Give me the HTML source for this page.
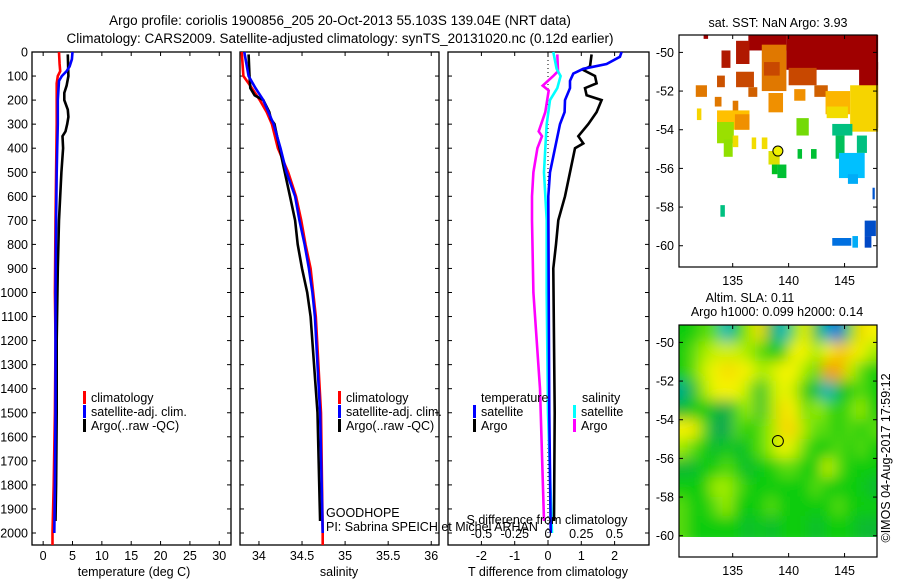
<!DOCTYPE html>
<html><head><meta charset="utf-8"><style>
body{margin:0;background:#fff;}
svg{display:block;font-family:"Liberation Sans",sans-serif;}
</style></head><body>
<svg id="c" width="900" height="580" xmlns="http://www.w3.org/2000/svg">
<defs>
<filter id="blur" x="-0.1" y="-0.1" width="1.2" height="1.2"><feGaussianBlur stdDeviation="7"/></filter>
<clipPath id="clipSla"><rect x="679" y="325" width="198" height="212"/></clipPath>
</defs>
<g font-size="13.5" text-anchor="middle" fill="#000">
<text x="340" y="25">Argo profile: coriolis 1900856_205 20-Oct-2013 55.103S 139.04E (NRT data)</text>
<text x="340" y="43">Climatology: CARS2009. Satellite-adjusted climatology: synTS_20131020.nc (0.12d earlier)</text>
</g>
<g id="plots"></g>
</svg>
<script>
// ---------- data ----------
const depthTicks=[0,100,200,300,400,500,600,700,800,900,1000,1100,1200,1300,1400,1500,1600,1700,1800,1900,2000];
const tempTicks=[0,5,10,15,20,25,30];
const salTicks=[34,34.5,35,35.5,36];
const salTickLabels=["34","34.5","35","35.5","36"];
const dTTicks=[-2,-1,0,1,2];
const dSTicks=[-0.5,-0.25,0,0.25,0.5];
const dSTickLabels=["-0.5","-0.25","0","0.25","0.5"];

const tClimDepth=[0,50,80,100,130,300,500,700,1000,1200,1500,1800,2000,2050];
const tClim=[2.7,2.8,2.9,2.5,2.3,2.3,2.2,2.1,2.0,2.1,2.0,1.8,1.6,1.6];
const tSatDepth=[0,30,60,80,100,120,200,300,400,500,700,1000,1500,1800,2000];
const tSat=[5.0,4.9,4.5,4.0,3.2,2.7,2.5,2.5,2.4,2.3,2.2,2.1,2.1,2.0,1.9];
const tArgoDepth=[10,100,140,170,200,240,270,300,330,350,400,500,700,900,1200,1500,1800,1950];
const tArgo=[4.2,4.3,4.0,3.6,3.6,4.2,4.3,4.1,3.8,3.3,3.4,3.1,2.7,2.5,2.3,2.3,2.2,2.1];

const sClimDepth=[0,100,140,200,250,300,400,500,600,700,800,900,1000,1100,1500,2000,2050];
const sClim=[33.80,33.82,33.90,34.01,34.09,34.15,34.22,34.34,34.43,34.49,34.54,34.60,34.63,34.66,34.72,34.74,34.74];
const sSatDepth=[0,100,150,200,300,400,500,600,700,800,900,1000,1100,1500,2000];
const sSat=[33.83,33.88,33.96,34.05,34.17,34.25,34.32,34.42,34.47,34.53,34.58,34.62,34.65,34.71,34.74];
const sArgoDepth=[10,100,150,180,200,250,280,300,400,500,600,700,800,900,1000,1100,1500,1950];
const sArgo=[33.88,33.89,33.90,33.95,34.05,34.12,34.14,34.18,34.24,34.30,34.36,34.42,34.45,34.50,34.56,34.60,34.68,34.71];

const dTArgoDepth=[10,60,75,100,130,150,180,200,250,300,350,380,400,500,600,700,800,900,1500,1950];
const dTArgo=[1.31,1.26,1.06,1.41,1.46,1.11,1.16,1.61,1.46,1.21,0.91,1.06,0.81,0.66,0.51,0.31,0.24,0.16,0.2,0.18];
const dTSatDepth=[0,20,50,70,90,120,150,200,250,300,400,500,600,1000,1500,2000];
const dTSat=[2.21,2.16,1.76,1.06,0.76,0.66,0.66,0.51,0.5,0.36,0.21,0.06,0.01,0.02,0.04,0.08];
const dSSatDepth=[0,70,100,150,200,300,400,500,700,1000,1500,2000];
const dSSat=[0.04,0.065,0.095,0.07,0.015,-0.01,-0.02,-0.03,-0.01,-0.01,0.0,0.03];
const dSArgoDepth=[10,80,100,140,160,250,330,350,400,500,600,700,1000,1400,1950];
const dSArgo=[0.07,0.075,0.04,-0.04,0.005,-0.02,-0.07,-0.045,-0.08,-0.11,-0.12,-0.12,-0.11,-0.06,-0.03];

const lonTicks=[135,140,145];
const latTicks=[-50,-52,-54,-56,-58,-60];
const floatLon=139.04, floatLat=-55.103;
const sstPatches=[
[139.8,-49.1,148,-50.9,9],[146.3,-50.5,148,-52.0,9],[147.2,-52,148,-53.9,9],[136.4,-49.1,139.8,-49.9,9],[135.3,-49.4,136.5,-50.6,8.5],[132.4,-49.1,132.8,-49.3,9],
[137.6,-49.6,139.8,-52.0,6.5],[137.8,-50.5,139.2,-51.2,7.5],[140,-50.8,142.5,-51.7,7.5],[133.6,-51.2,134.3,-51.8,7.3],
[134,-49.9,134.8,-50.8,8.5],[131.7,-51.7,132.7,-52.3,6.5],[133.4,-52.3,134.0,-52.8,6.5],[135.3,-51.0,136.9,-51.8,7.5],
[136.4,-51.8,137.2,-52.3,7],[135,-52.5,135.5,-53.1,6.5],[138.2,-52.1,139.5,-53.1,6],[140.5,-51.9,141.5,-52.5,6],
[142.3,-51.7,143.5,-52.3,7],[143.3,-52.0,145.5,-53.2,5.2],[145.5,-51.7,148,-54.1,4.5],[143.4,-52.8,145.3,-53.4,4.3],
[131.8,-52.9,132.2,-53.5,4.5],[133.6,-53.0,136.5,-54.0,5],[135.2,-53.2,136.5,-54.0,6],[133.6,-53.6,135.1,-54.7,3.3],[134.2,-54.5,135.0,-55.4,3.2],
[135,-54.3,135.5,-54.9,4.3],[136.7,-54.4,137.1,-55.0,4.3],[137.6,-54.4,138.1,-55.0,4.3],[138.2,-55.1,139.2,-55.8,4.0],
[138.5,-55.8,139.0,-56.3,2.7],[139.0,-55.8,139.8,-56.5,2.6],[140.7,-53.4,141.8,-54.3,3.1],[140.8,-55.0,141.2,-55.5,2.6],
[142.0,-55.0,142.5,-55.5,2.6],[143.9,-53.7,145.7,-54.3,2.2],[144.2,-54.3,145.0,-55.5,2.4],[146.1,-54.3,147.0,-55.2,2.2],
[144.5,-55.2,146.8,-56.5,1.6],[145.3,-56.3,146.2,-56.8,1.5],[133.9,-57.9,134.3,-58.5,2.2],[147.5,-57.0,147.7,-57.6,0.8],
[146.8,-58.7,147.8,-59.5,0.7],[143.9,-59.6,145.6,-60.0,1.2],[146.8,-59.5,147.4,-60.1,0.6],[145.7,-59.5,146.2,-60.1,1.5]];
const slaLats=[-49.5,-50.5,-51.5,-52.5,-53.5,-54.5,-55.5,-56.5,-57.5,-58.5,-59.5];
const slaLons=[130.5,131.5,132.5,133.5,134.5,135.5,136.5,137.5,138.5,139.5,140.5,141.5,142.5,143.5,144.5,145.5,146.5,147.5];
const slaGrid=[
[.5,.5,.55,.55,.3,.5,.6,.75,.45,.3,.55,.7,.45,.3,.2,.55,.75,.7],
[.5,.55,.6,.65,.65,.65,.6,.55,.5,.5,.7,.7,.6,.7,.8,.75,.7,.6],
[.5,.55,.65,.7,.75,.72,.7,.6,.65,.7,.7,.6,.55,.85,.85,.65,.55,.5],
[.35,.45,.6,.7,.7,.7,.6,.45,.6,.7,.65,.5,.45,.3,.45,.5,.55,.5],
[.45,.5,.5,.45,.4,.55,.6,.45,.6,.75,.7,.55,.6,.55,.5,.55,.6,.5],
[.7,.72,.55,.4,.4,.55,.5,.55,.6,.75,.75,.6,.55,.55,.5,.55,.5,.55],
[.6,.55,.5,.45,.5,.45,.5,.55,.6,.7,.65,.55,.5,.5,.55,.5,.55,.5],
[.45,.45,.5,.5,.55,.5,.45,.5,.5,.55,.55,.5,.5,.65,.55,.5,.5,.5],
[.5,.5,.5,.6,.6,.55,.5,.5,.5,.5,.5,.5,.55,.5,.5,.5,.5,.45],
[.55,.5,.5,.55,.6,.5,.5,.5,.55,.5,.5,.5,.5,.5,.55,.5,.5,.5],
[.55,.5,.5,.5,.5,.5,.45,.5,.45,.5,.5,.5,.45,.5,.5,.5,.45,.45]];

// ---------- helpers ----------
const NS="http://www.w3.org/2000/svg";
const root=document.getElementById('plots');
function el(tag,attrs,parent){const e=document.createElementNS(NS,tag);for(const k in attrs)e.setAttribute(k,attrs[k]);(parent||root).appendChild(e);return e;}
function txt(x,y,s,anchor,size,parent){const t=el('text',{x:x,y:y,'text-anchor':anchor||'middle','font-size':size||12.5},parent);t.textContent=s;return t;}
const plotTop=52,plotBot=545;
const yD=d=>plotTop+d*0.2405;
function lin(d0,d1,p0,p1){return v=>p0+(v-d0)*(p1-p0)/(d1-d0);}
const xT=lin(-1.9,32.0,32,231);
const xS=lin(33.78,36.09,240,439);
const xDT=lin(0,1,548,581.3);
const xDS=lin(0,1,548,681);

function frame(x0,x1,name){
  const r=el('rect',{x:x0,y:plotTop,width:x1-x0,height:plotBot-plotTop,fill:'none',stroke:'#000','stroke-width':1.3});
  
  
  depthTicks.forEach(d=>{const y=yD(d);el('line',{x1:x0,x2:x0+4,y1:y,y2:y,stroke:'#000'});el('line',{x1:x1-4,x2:x1,y1:y,y2:y,stroke:'#000'});});
}
function xticks(ticks,labels,sc,name){
  const g=el('g',{});
  
  
  ticks.forEach((v,i)=>{const x=sc(v);el('line',{x1:x,x2:x,y1:plotBot,y2:plotBot-4,stroke:'#000'},g);el('line',{x1:x,x2:x,y1:plotTop,y2:plotTop+4,stroke:'#000'},g);txt(x,560,labels?labels[i]:String(v),'middle',12.5,g);});
}
function profile(depths,vals,sc,color,name){
  const pts=depths.map((d,i)=>sc(vals[i]).toFixed(1)+','+yD(d).toFixed(1)).join(' ');
  const p=el('polyline',{points:pts,fill:'none',stroke:color,'stroke-width':2.6,'stroke-linejoin':'miter'});
  
  
}
function legend(x,y,color,label,name){
  const g=el('g',{});
  
  
  el('rect',{x:x,y:y-11,width:3,height:13,fill:color},g);
  txt(x+8,y,label,'start',12.5,g);
}

// ---------- panel 1 temperature ----------
frame(32,231,'temperature-panel');
depthTicks.forEach(d=>{const t=txt(28,yD(d)+4.5,String(d),'end',12.5);});
xticks(tempTicks,null,xT,'temperature-x-axis');
txt(134,576,'temperature (deg C)','middle',12.5);
profile(tClimDepth,tClim,xT,'#ff0000','temp-climatology-line');
profile(tArgoDepth,tArgo,xT,'#000000','temp-argo-line');
profile(tSatDepth,tSat,xT,'#0000ff','temp-satellite-line');
legend(83,402,'#ff0000','climatology','legend-climatology');
legend(83,416,'#0000ff','satellite-adj. clim.','legend-satellite');
legend(83,430,'#000000','Argo(..raw -QC)','legend-argo');

// ---------- panel 2 salinity ----------
frame(240,439,'salinity-panel');
xticks(salTicks,salTickLabels,xS,'salinity-x-axis');
txt(339,576,'salinity','middle',12.5);
profile(sClimDepth,sClim,xS,'#ff0000','sal-climatology-line');
profile(sArgoDepth,sArgo,xS,'#000000','sal-argo-line');
profile(sSatDepth,sSat,xS,'#0000ff','sal-satellite-line');
legend(338,402,'#ff0000','climatology','legend-climatology-2');
legend(338,416,'#0000ff','satellite-adj. clim.','legend-satellite-2');
legend(338,430,'#000000','Argo(..raw -QC)','legend-argo-2');

// ---------- panel 3 differences ----------
frame(448,649,'difference-panel');
xticks(dTTicks,null,xDT,'t-difference-x-axis');
txt(548,576,'T difference from climatology','middle',12.5);
el('line',{x1:xDT(0),x2:xDT(0),y1:plotTop,y2:plotBot,stroke:'#000','stroke-dasharray':'1,3'});
profile(dSArgoDepth,dSArgo,xDS,'#ff00ff','s-diff-argo-line');
profile(dSSatDepth,dSSat,xDS,'#00ffff','s-diff-satellite-line');
profile(dTArgoDepth,dTArgo,xDT,'#000000','t-diff-argo-line');
profile(dTSatDepth,dTSat,xDT,'#0000ff','t-diff-satellite-line');
txt(481,402,'temperature','start',12.5);
txt(582,402,'salinity','start',12.5);
legend(473,416,'#0000ff','satellite','legend-t-satellite');
legend(473,430,'#000000','Argo','legend-t-argo');
legend(573,416,'#00ffff','satellite','legend-s-satellite');
legend(573,430,'#ff00ff','Argo','legend-s-argo');
txt(547,524,'S difference from climatology','middle',12.5);
dSTicks.forEach((v,i)=>{const t=txt(xDS(v),538,dSTickLabels[i],'middle',12.5);});
txt(326,517,'GOODHOPE','start',12.5);
txt(326,531,'PI: Sabrina SPEICH et Michel ARHAN','start',12.5);

// ---------- maps ----------
const mx=lin(130.2,147.9,679,877);
const myTop=lin(-49.1,-61.1,35,267);
const myBot=lin(-49.1,-61.1,325,557);
function colorAt(stops,v){
  if(v<=stops[0][0])return stops[0][1];
  for(let i=1;i<stops.length;i++){if(v<=stops[i][0]){const a=stops[i-1],b=stops[i];const t=(v-a[0])/(b[0]-a[0]);
    const ca=a[1].match(/\w\w/g).map(h=>parseInt(h,16)),cb=b[1].match(/\w\w/g).map(h=>parseInt(h,16));
    return 'rgb('+ca.map((c,k)=>Math.round(c+(cb[k]-c)*t)).join(',')+')';}}
  return stops[stops.length-1][1];
}
const sstStops=[[0.5,'#0040c0'],[1.2,'#0070e0'],[1.6,'#00c0ff'],[2.2,'#00c080'],[2.7,'#00c020'],[3.2,'#90e000'],[4.2,'#f0e000'],[5,'#ffc000'],[6,'#f09000'],[7,'#d06000'],[8,'#c03000'],[9,'#a00000']];
const slaStops=[[0.2,'#0050e0'],[0.3,'#00b0c8'],[0.4,'#00a850'],[0.5,'#10cc10'],[0.6,'#a0ec00'],[0.7,'#f4f400'],[0.8,'#f8c000'],[0.9,'#f08000']];

function mapAxes(my,y0,name){
  const g=el('g',{});
  
  
  el('rect',{x:679,y:y0,width:198,height:232,fill:'none',stroke:'#000','stroke-width':1.2},g);
  lonTicks.forEach(v=>{const x=mx(v);el('line',{x1:x,x2:x,y1:y0,y2:y0+4,stroke:'#000'},g);el('line',{x1:x,x2:x,y1:y0+232,y2:y0+228,stroke:'#000'},g);txt(x,y0+250,String(v),'middle',12.5,g);});
  latTicks.forEach(v=>{const y=my(v);el('line',{x1:679,x2:683,y1:y,y2:y,stroke:'#000'},g);el('line',{x1:873,x2:877,y1:y,y2:y,stroke:'#000'},g);txt(674,y+4.5,String(v),'end',12.5,g);});
}
const sstG=el('g',{});


sstPatches.forEach(p=>{
  const r=el('rect',{x:mx(p[0]),y:myTop(p[1]),width:mx(p[2])-mx(p[0]),height:myTop(p[3])-myTop(p[1]),fill:colorAt(sstStops,p[4])},sstG);
  
  
});
mapAxes(myTop,35,'sst-map-axes');
const f1=el('circle',{cx:mx(floatLon),cy:myTop(floatLat),r:5,fill:'#f0f000',stroke:'#000','stroke-width':1});


txt(778,27,'sat. SST: NaN Argo: 3.93','middle',12.5);

const clipG=el('g',{'clip-path':'url(#clipSla)'});
const slaG=el('g',{filter:'url(#blur)'},clipG);


const nR=slaGrid.length, nC=slaLons.length;
slaGrid.forEach((row,i)=>row.forEach((v,j)=>{
  let lon0=slaLons[j]-0.5, lon1=slaLons[j]+0.5, lat0=slaLats[i]+0.5, lat1=slaLats[i]-0.5;
  if(j===0)lon0-=3; if(j===nC-1)lon1+=3; if(i===0)lat0+=3; if(i===nR-1)lat1-=0.6;
  const r=el('rect',{x:mx(lon0)-0.5,y:myBot(lat0)-0.5,width:mx(lon1)-mx(lon0)+1,height:myBot(lat1)-myBot(lat0)+1,fill:colorAt(slaStops,v)},slaG);
  
  
}));
mapAxes(myBot,325,'sla-map-axes');
const f2=el('circle',{cx:mx(floatLon),cy:myBot(floatLat),r:5.5,fill:'none',stroke:'#000','stroke-width':1});


txt(750,302,'Altim. SLA: 0.11','middle',12.5);
txt(777,316,'Argo h1000: 0.099 h2000: 0.14','middle',12.5);
const cr=txt(0,0,'©IMOS 04-Aug-2017 17:59:12','middle',12.5);
cr.setAttribute('transform','translate(890,458) rotate(-90)');


</script>
</body></html>
